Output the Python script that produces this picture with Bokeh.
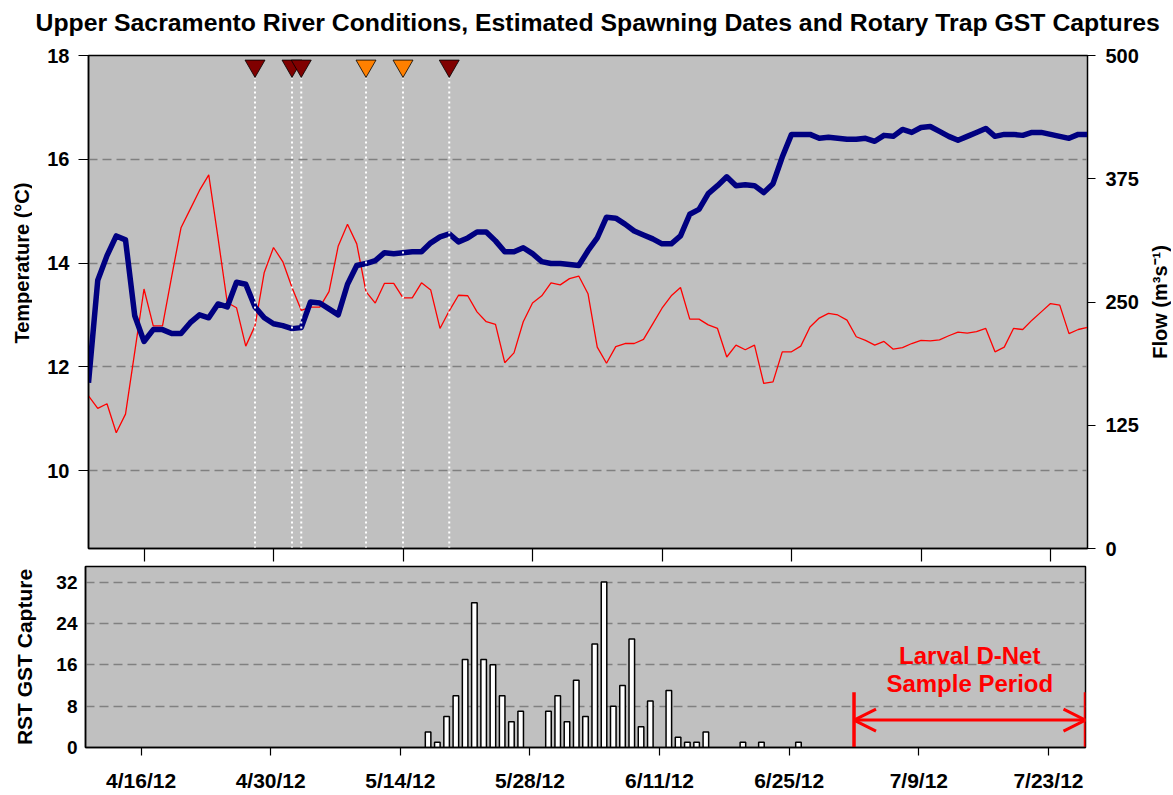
import pandas as pd
from bokeh.plotting import figure
from bokeh.models import Range1d, LinearAxis, FixedTicker, Arrow, OpenHead
from bokeh.layouts import column, row
from bokeh.embed import file_html
from bokeh.resources import INLINE
from bokeh.core.properties import value

FONT = "Liberation Sans"

# ---------------- data ----------------
series_start = "2012-04-10"
series_end = "2012-07-27"

temperature = [
    11.44, 11.20, 11.29, 10.73, 11.09, 12.29, 13.50, 12.79, 12.79, 13.75,
    14.68, 15.04, 15.40, 15.70, 14.49, 13.24, 13.14, 12.40, 12.79, 13.82,
    14.30, 14.03, 13.53, 13.09, 13.15, 13.15, 13.45, 14.33, 14.75, 14.37,
    13.45, 13.23, 13.61, 13.61, 13.33, 13.33, 13.62, 13.48, 12.74, 13.08,
    13.38, 13.37, 13.06, 12.87, 12.82, 12.08, 12.27, 12.87, 13.23, 13.37,
    13.62, 13.58, 13.70, 13.75, 13.41, 12.38, 12.07, 12.39, 12.45, 12.45,
    12.53, 12.83, 13.13, 13.37, 13.53, 12.92, 12.92, 12.81, 12.74, 12.19,
    12.42, 12.33, 12.42, 11.68, 11.71, 12.29, 12.29, 12.40, 12.77, 12.94,
    13.03, 13.00, 12.90, 12.58, 12.51, 12.42, 12.49, 12.34, 12.37, 12.45,
    12.51, 12.50, 12.52, 12.60, 12.67, 12.65, 12.68, 12.74, 12.29, 12.38,
    12.74, 12.72, 12.90, 13.06, 13.22, 13.19, 12.64, 12.72, 12.76,
]

flow = [
    168, 272, 297, 317, 313, 236, 210, 222, 222, 218,
    218, 229, 237, 234, 248, 245, 270, 268, 245, 234,
    228, 226, 223, 224, 250, 249, 243, 237, 268, 287,
    289, 292, 300, 299, 300, 301, 301, 310, 316, 319,
    311, 315, 321, 321, 312, 301, 301, 305, 299, 291,
    289, 289, 288, 287, 302, 315, 336, 335, 329, 322,
    318, 314, 309, 309, 317, 339, 344, 360, 368, 377,
    368, 369, 368, 361, 370, 397, 420, 420, 420, 416,
    417, 416, 415, 415, 416, 413, 419, 418, 425, 422,
    427, 428, 423, 418, 414, 418, 422, 426, 418, 420,
    420, 419, 422, 422, 420, 418, 416, 420, 420,
]

spawn_dates = ["2012-04-28", "2012-05-02", "2012-05-03", "2012-05-10", "2012-05-14", "2012-05-19"]
spawn_colors = ["#800000", "#800000", "#800000", "#FF8000", "#FF8000", "#800000"]

capture_dates = [
    "2012-05-17", "2012-05-18", "2012-05-19", "2012-05-20", "2012-05-21", "2012-05-22",
    "2012-05-23", "2012-05-24", "2012-05-25", "2012-05-26", "2012-05-27",
    "2012-05-30", "2012-05-31", "2012-06-01", "2012-06-02", "2012-06-03", "2012-06-04",
    "2012-06-05", "2012-06-06", "2012-06-07", "2012-06-08", "2012-06-09", "2012-06-10",
    "2012-06-12", "2012-06-13", "2012-06-14", "2012-06-15", "2012-06-16",
    "2012-06-20", "2012-06-22", "2012-06-26",
]
capture_counts = [
    3, 1, 6, 10, 17, 28, 17, 16, 10, 5, 7,
    7, 10, 5, 13, 6, 20, 32, 8, 12, 21, 4, 9,
    11, 2, 1, 1, 3,
    1, 1, 1,
]

tick_dates = ["2012-04-16", "2012-04-30", "2012-05-14", "2012-05-28",
              "2012-06-11", "2012-06-25", "2012-07-09", "2012-07-23"]
tick_labels = ["4/16/12", "4/30/12", "5/14/12", "5/28/12",
               "6/11/12", "6/25/12", "7/9/12", "7/23/12"]

larval_start = "2012-07-02"
larval_end = "2012-07-27"

temp_ticks = [10, 12, 14, 16, 18]
flow_ticks = [0, 125, 250, 375, 500]
capture_ticks = [0, 8, 16, 24, 32]

TITLE = ("Upper Sacramento River Conditions, Estimated Spawning Dates "
         "and Rotary Trap GST Captures")
TEMP_LABEL = "Temperature (°C)"
FLOW_LABEL = "Flow (m³s⁻¹)"

# ---------------- helpers ----------------
origin = pd.Timestamp("2012-04-01")


def day(s):
    return (pd.Timestamp(s) - origin).days


days = [(d - origin).days for d in pd.date_range(series_start, series_end)]
tick_days = [day(s) for s in tick_dates]
spawn_days = [day(s) for s in spawn_dates]
capture_days = [day(s) for s in capture_dates]
x_lo, x_hi = day(series_start), day(series_end)

BG = "#C0C0C0"
GRID = "#808080"
TOTAL_W = 1171
TITLE_H = 40


def style_common(fig):
    fig.background_fill_color = BG
    fig.border_fill_color = "white"
    fig.outline_line_color = "black"
    fig.outline_line_width = 1.5
    fig.xgrid.visible = False
    for ax in fig.axis:
        ax.major_label_text_font = FONT
        ax.major_label_text_font_style = "bold"
        ax.major_label_text_color = "black"
        ax.axis_label_text_font = FONT
        ax.axis_label_text_font_style = "bold"
        ax.axis_label_text_color = "black"
        ax.minor_tick_line_color = None
        ax.axis_line_color = "black"
        ax.axis_line_width = 1.5
        ax.major_tick_line_color = "black"
        ax.major_tick_line_width = 1.2


def blank_fig(w, h, xr, yr, **kw):
    f = figure(frame_width=w, frame_height=h, x_range=xr, y_range=yr,
               output_backend="svg", toolbar_location=None,
               x_axis_type=None, y_axis_type=None,
               min_border_left=0, min_border_right=0, **kw)
    f.outline_line_color = None
    f.background_fill_color = "white"
    f.border_fill_color = "white"
    f.grid.visible = False
    return f


# ---------------- title strip ----------------
t = blank_fig(TOTAL_W, TITLE_H, Range1d(0, TOTAL_W), Range1d(TITLE_H, 0),
              min_border_top=0, min_border_bottom=0)
t.text(x=[35], y=[21.8], text=[TITLE], text_font=value(FONT),
       text_font_style="bold", text_font_size="24.8px", text_color="black",
       text_align="left", text_baseline="alphabetic")

# ---------------- top figure ----------------
TOP_FW, TOP_FH = 999, 493
TOP_BT, TOP_BB = 55 - TITLE_H, 14
LEFT_W = 32
p = figure(frame_width=TOP_FW, frame_height=TOP_FH,
           x_range=Range1d(x_lo, x_hi), y_range=Range1d(8.5, 18),
           output_backend="svg", toolbar_location=None,
           min_border_left=88 - LEFT_W, min_border_right=58,
           min_border_top=TOP_BT, min_border_bottom=TOP_BB)
p.extra_y_ranges = {"flow": Range1d(0, 500)}

right_ax = LinearAxis(y_range_name="flow")
p.add_layout(right_ax, "right")

style_common(p)

p.xaxis.ticker = FixedTicker(ticks=tick_days)
p.xaxis.major_label_overrides = {tk: "" for tk in tick_days}
p.xaxis.major_label_text_font_size = "0px"
p.xaxis.major_label_standoff = 0
p.xaxis.major_tick_out = 13
p.xaxis.major_tick_in = 0

left_ax = p.yaxis[0]
left_ax.ticker = FixedTicker(ticks=temp_ticks)
left_ax.major_label_text_font_size = "20px"
left_ax.major_tick_out = 10
left_ax.major_tick_in = 0
left_ax.major_label_standoff = 9

right_ax.ticker = FixedTicker(ticks=flow_ticks)
right_ax.major_label_text_font_size = "20px"
right_ax.major_tick_out = 8
right_ax.major_tick_in = 0
right_ax.major_label_standoff = 10
right_ax.axis_line_width = 1

p.ygrid.ticker = FixedTicker(ticks=[tk for tk in temp_ticks if tk < 18])
p.ygrid.grid_line_color = GRID
p.ygrid.grid_line_dash = "9 5"
p.ygrid.grid_line_width = 1.3

p.line(days, temperature, line_color="#FF0000", line_width=1.3)
p.line(days, flow, y_range_name="flow", line_color="#000080",
       line_width=5.5, line_join="round")

marker_y = 17.80
line_top = 17.57
p.segment(x0=spawn_days, y0=[8.5] * len(spawn_days), x1=spawn_days,
          y1=[line_top] * len(spawn_days),
          line_color="white", line_width=2, line_dash="2 3")
p.scatter(spawn_days, [marker_y] * len(spawn_days), marker="inverted_triangle",
          size=20, fill_color=spawn_colors, line_color="black", line_width=0.8)

# left-hand axis title (centred level with the 14 degree tick, as in the original)
lf = blank_fig(LEFT_W, TOP_FH, Range1d(0, LEFT_W), Range1d(8.5, 18),
               min_border_top=TOP_BT, min_border_bottom=TOP_BB)
lf.text(x=[21], y=[14.0], text=[TEMP_LABEL], angle=90, angle_units="deg",
        text_font=value(FONT), text_font_style="bold", text_font_size="20px",
        text_color="black", text_align="center", text_baseline="middle")

# right-hand axis title, reading bottom-to-top
SIDE_W = TOTAL_W - (88 + TOP_FW + 58)
s = blank_fig(SIDE_W, TOP_FH, Range1d(0, 1), Range1d(0, 500),
              min_border_top=TOP_BT, min_border_bottom=TOP_BB)
s.text(x=[0.55], y=[250], text=[FLOW_LABEL], angle=90, angle_units="deg",
       text_font=value(FONT), text_font_style="bold", text_font_size="20px",
       text_color="black", text_align="center", text_baseline="middle")

# ---------------- bottom figure ----------------
q = figure(frame_width=1000, frame_height=181,
           x_range=Range1d(x_lo, x_hi), y_range=Range1d(0, 35),
           output_backend="svg", toolbar_location=None,
           min_border_left=85, min_border_right=TOTAL_W - 85 - 1000,
           min_border_top=4, min_border_bottom=46)
style_common(q)

q.xaxis.ticker = FixedTicker(ticks=tick_days)
q.xaxis.major_label_overrides = dict(zip(tick_days, tick_labels))
q.xaxis.major_label_text_font_size = "21px"
q.xaxis.major_tick_out = 8
q.xaxis.major_tick_in = 0
q.xaxis.major_label_standoff = 13

q.yaxis.ticker = FixedTicker(ticks=capture_ticks)
q.yaxis.axis_label = "RST GST Capture"
q.yaxis.axis_label_text_font_size = "21px"
q.yaxis.major_label_text_font_size = "19px"
q.yaxis.major_tick_out = 0
q.yaxis.major_tick_in = 0
q.yaxis.major_label_standoff = 8
q.yaxis.axis_label_standoff = 17

q.ygrid.ticker = FixedTicker(ticks=[tk for tk in capture_ticks if tk > 0])
q.ygrid.grid_line_color = GRID
q.ygrid.grid_line_dash = "9 5"
q.ygrid.grid_line_width = 1.3

q.vbar(x=capture_days, top=capture_counts, width=0.6, bottom=0,
       fill_color="white", line_color="black", line_width=1.5)

ls, le = day(larval_start), day(larval_end)
q.segment(x0=[ls, le], y0=[0, 0], x1=[ls, le], y1=[10.7, 10.7],
          line_color="#FF0000", line_width=3.5)
q.add_layout(Arrow(x_start=ls, y_start=5.3, x_end=le, y_end=5.3,
                   line_color="#FF0000", line_width=3,
                   start=OpenHead(size=22, line_color="#FF0000", line_width=3),
                   end=OpenHead(size=22, line_color="#FF0000", line_width=3)))
mid = (ls + le) / 2
q.text(x=[mid, mid], y=[17.75, 12.45], text=["Larval D-Net", "Sample Period"],
       text_font=value(FONT), text_font_style="bold", text_font_size="24px",
       text_color="#FF0000", text_align="center", text_baseline="alphabetic")

layout = column(row(t, spacing=0), row(lf, p, s, spacing=0), row(q, spacing=0),
                spacing=0)
open("out.html", "w").write(file_html(layout, INLINE))
